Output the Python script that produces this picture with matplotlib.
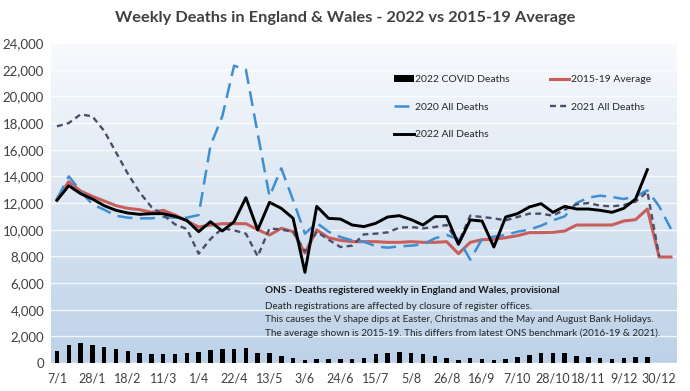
import numpy as np
import matplotlib.pyplot as plt
from matplotlib.colors import LinearSegmentedColormap

plt.rcParams['font.family'] = ['Lato', 'DejaVu Sans']

# x axis: every third week is labelled
tick_labels = ["7/1", "28/1", "18/2", "11/3", "1/4", "22/4", "13/5", "3/6", "24/6",
               "15/7", "5/8", "26/8", "16/9", "7/10", "28/10", "18/11", "9/12", "30/12"]

covid_2022 = [920, 1370, 1500, 1370, 1220, 1050, 870, 770, 680, 680, 680, 770, 820,
              970, 1020, 1050, 1120, 770, 720, 550, 400, 200, 280, 280, 280, 320, 400,
              650, 720, 820, 720, 650, 500, 400, 250, 350, 275, 225, 300, 425, 625,
              725, 725, 725, 550, 425, 375, 300, 350, 425, 425]

avg_2015_19 = [12300, 13600, 12900, 12500, 12150, 11800, 11600, 11500, 11300, 11450,
               11100, 10650, 10200, 10350, 10450, 10450, 10450, 10000, 9600, 10100,
               9850, 8250, 9980, 9400, 9200, 9100, 9100, 9100, 9050, 9050, 9100, 9050,
               9050, 9100, 8200, 9050, 9250, 9280, 9400, 9550, 9780, 9780, 9800, 9900,
               10350, 10350, 10350, 10350, 10650, 10750, 11550, 7950, 7950]

deaths_2020 = [12300, 14000, 12900, 11900, 11500, 11050, 10900, 10850, 10850, 10950,
               10900, 10900, 11100, 16300, 18500, 22300, 22000, 17200, 12500, 14600,
               12200, 9700, 10500, 9850, 9450, 9200, 9100, 8750, 8650, 8750, 8800, 8900,
               9350, 9600, 9300, 7750, 9300, 9480, 9600, 9850, 10000, 10300, 10700,
               11000, 12000, 12400, 12550, 12450, 12300, 12500, 12950, 11750, 10050]

deaths_2021 = [17750, 18000, 18650, 18500, 17400, 15800, 14200, 12800, 11700, 11100,
               10400, 10050, 8200, 9300, 10100, 9950, 9700, 8000, 10100, 10000, 9850,
               8350, 9850, 9250, 8700, 8800, 9650, 9700, 9800, 10150, 10200, 10100,
               10200, 10350, 9000, 11050, 10950, 10850, 10700, 10950, 11200, 11200,
               11050, 11500, 11900, 12000, 11800, 11750, 11850, 12100, 12850, 8000]

deaths_2022 = [12200, 13300, 12700, 12300, 11800, 11450, 11250, 11150, 11200, 11200,
               11000, 10700, 9850, 10600, 9900, 10600, 12400, 9980, 12050, 11600, 10850,
               6800, 11750, 10850, 10800, 10350, 10230, 10480, 10950, 11050, 10750,
               10350, 10980, 10980, 8900, 10730, 10650, 8700, 10950, 11200, 11700, 11950,
               11300, 11750, 11550, 11550, 11450, 11300, 11600, 12300, 14500]

fig = plt.figure(figsize=(6.9, 3.91), dpi=100)
ax = fig.add_axes([0.074, 0.0716, 0.907, 0.8184])

# plot area gradient, white at top to pale blue at bottom
grad = LinearSegmentedColormap.from_list("bg", ["#f8fafd", "#dbe6f2", "#bcd1e8"])
ax.imshow(np.linspace(0, 1, 256).reshape(-1, 1), cmap=grad, aspect='auto',
          extent=(0, 1, 0, 1), transform=ax.transAxes, zorder=0)

for s in ax.spines.values():
    s.set_visible(False)
ax.set_ylim(0, 24000)
ax.set_xlim(-0.5, 52.5)
ax.set_yticks(np.arange(0, 24001, 2000))
ax.set_yticklabels([f"{v:,}" for v in range(0, 24001, 2000)])
ax.set_xticks(np.arange(0, 52, 3))
ax.set_xticklabels(tick_labels)
ax.tick_params(length=0, labelsize=9, colors='#404040', pad=7)
ax.tick_params(axis='y', labelsize=9.5, pad=5)
ax.grid(axis='y', color='white', linewidth=1, alpha=0.8, zorder=1)
ax.set_axisbelow(True)

x_bar = np.arange(len(covid_2022))
bars = ax.bar(x_bar, covid_2022, width=0.38, color='black', zorder=2,
              label='2022 COVID Deaths')

l_avg, = ax.plot(np.arange(len(avg_2015_19)), avg_2015_19, color='#c95f5b',
                 lw=2.2, zorder=3, label='2015-19 Average')
l_2020, = ax.plot(np.arange(len(deaths_2020)), deaths_2020, color='#3f8fd2',
                  lw=1.8, dashes=(6, 3), zorder=3, label='2020 All Deaths')
l_2021, = ax.plot(np.arange(len(deaths_2021)), deaths_2021, color='#4b4d6b',
                  lw=1.7, dashes=(2.5, 1.8), zorder=3, label='2021 All Deaths')
l_2022, = ax.plot(np.arange(len(deaths_2022)), deaths_2022, color='black',
                  lw=2.1, zorder=4, label='2022 All Deaths')

ax.legend(handles=[bars, l_2020, l_2022, l_avg, l_2021], ncol=2, frameon=False,
          loc='upper left', bbox_to_anchor=(0.548, 0.9), borderaxespad=0,
          borderpad=0, fontsize=7.5, labelspacing=1.75, handlelength=1.9,
          handletextpad=0.15, columnspacing=3.8, labelcolor='#262626')

ax.text(0.342, 0.228, "ONS - Deaths registered weekly in England and Wales, provisional",
        transform=ax.transAxes, fontsize=7.2, fontweight='bold', color='#1a1a1a',
        va='center', ha='left')
ax.text(0.342, 0.19,
        "Death registrations are affected by closure of register offices.\n"
        "This causes the V shape dips at Easter, Christmas and the May and August Bank Holidays.\n"
        "The average shown is 2015-19. This differs from latest ONS benchmark (2016-19 & 2021).",
        transform=ax.transAxes, fontsize=7.1, color='#262626', va='top', ha='left',
        linespacing=1.55)

fig.text(0.5, 0.955, "Weekly Deaths in England & Wales - 2022 vs 2015-19 Average",
         ha='center', va='center', fontsize=11.8, fontweight='bold', color='#404040')

fig.savefig("out.png", dpi=100)
